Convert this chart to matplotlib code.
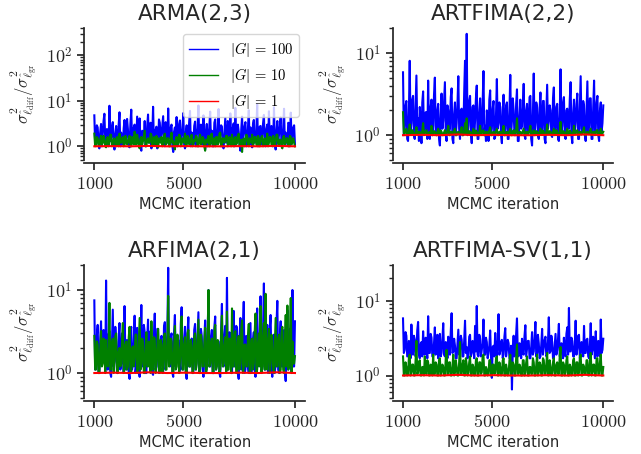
import numpy as np
import matplotlib
matplotlib.use("Agg")
import matplotlib.pyplot as plt
from matplotlib.ticker import FixedLocator, FuncFormatter, LogLocator, NullFormatter

plt.rcParams['mathtext.fontset'] = 'cm'
plt.rcParams['font.family'] = ['DejaVu Sans']

titles = ["ARMA(2,3)", "ARTFIMA(2,2)", "ARFIMA(2,1)", "ARTFIMA-SV(1,1)"]
legend_labels = [r"$|G| \,=\, 100$", r"$|G| \,=\, 10$", r"$|G| \,=\, 1$"]
x_ticks = [1000, 5000, 10000]
iter_start, iter_end = 1000, 10000
ylims = [(0.5, 400), (0.5, 20), (0.5, 20), (0.5, 30)]

arma_g100 = [
    4.8, 1.1, 1.3, 2.9, 2.6, 1.2, 0.9, 2.0, 3.1, 1.0, 1.8, 3.6, 5.2, 1.4, 1.2, 2.4, 2.2, 1.0, 7.8, 1.3,
    1.5, 2.7, 3.4, 1.1, 0.85, 1.9, 2.8, 1.2, 1.4, 3.0, 5.6, 1.0, 2.0, 1.5, 1.1, 2.5, 3.8, 1.2, 1.6, 4.0,
    2.4, 1.0, 0.95, 3.2, 6.4, 1.2, 1.7, 2.6, 3.0, 1.1, 1.2, 4.5, 2.5, 1.3, 4.1, 1.0, 0.8, 2.2, 2.1, 1.4,
    3.6, 1.0, 1.3, 2.8, 5.0, 1.2, 1.9, 3.3, 0.9, 1.6, 7.4, 1.1, 1.4, 2.3, 2.7, 0.9, 1.1, 3.9, 3.3, 1.3,
    1.8, 2.9, 4.6, 1.1, 1.0, 3.4, 2.3, 1.2, 6.8, 1.5, 1.5, 2.6, 3.0, 1.0, 0.75, 2.1, 2.6, 1.2, 4.4, 1.0,
    1.2, 3.1, 3.7, 1.4, 1.6, 2.4, 5.4, 1.1, 0.9, 2.0, 2.9, 1.2, 1.3, 3.5, 6.0, 1.0, 2.0, 1.6, 1.1, 2.8,
    3.5, 1.0, 1.7, 2.5, 7.9, 1.3, 1.2, 3.0, 2.4, 1.1, 4.8, 1.5, 0.85, 2.2, 3.1, 1.0, 1.5, 2.7, 5.8, 1.2,
    2.2, 1.0, 1.0, 3.3, 3.9, 1.1, 1.4, 2.4, 6.6, 1.3, 1.8, 2.9, 2.7, 1.0, 0.9, 2.0, 4.2, 1.2, 1.3, 3.6,
    2.5, 1.1, 5.3, 1.4, 1.1, 2.6, 3.2, 1.0, 7.0, 1.2, 1.6, 3.0, 2.1, 1.1, 0.8, 2.3, 4.5, 1.3, 1.9, 2.8,
    3.4, 1.0, 1.2, 2.5, 6.2, 1.1, 2.6, 1.4, 0.95, 3.1, 3.8, 1.2, 1.5, 2.2, 8.4, 1.0, 1.3, 2.7, 2.8, 1.1,
    1.7, 3.2, 4.9, 1.2, 1.0, 2.4, 3.0, 1.1, 5.9, 1.4, 1.4, 2.8, 2.3, 1.0, 7.2, 1.3, 0.85, 2.1, 3.6, 1.2,
    1.8, 2.9, 4.3, 1.0, 1.2, 2.5, 6.7, 1.1, 2.0, 1.5, 1.1, 3.3, 3.2, 1.0, 5.5, 1.3, 1.6, 2.6, 2.9, 1.1]
arma_g10 = [
    1.9, 1.0, 1.1, 1.6, 1.5, 1.05, 1.0, 1.4, 1.7, 1.1, 1.2, 1.7, 1.4, 1.0, 0.95, 1.5, 1.6, 1.1, 1.3, 1.8,
    1.8, 1.0, 1.1, 1.4, 1.5, 1.1, 1.0, 1.6, 1.3, 1.0, 1.9, 1.2, 1.2, 1.5, 1.6, 1.0, 1.05, 1.7, 1.4, 1.1,
    1.2, 1.5, 1.7, 1.0, 1.0, 1.6, 1.5, 1.1, 2.1, 1.2, 1.1, 1.8, 1.4, 1.0, 0.9, 1.5, 1.6, 1.1, 1.3, 1.7,
    2.2, 1.0, 1.0, 1.4, 1.5, 1.2, 1.2, 1.9, 1.8, 1.0, 1.1, 1.6, 1.4, 1.1, 1.7, 1.0, 0.95, 1.5, 1.3, 1.2,
    1.6, 1.0, 1.1, 1.7, 1.9, 1.1, 1.2, 1.5, 1.5, 1.0, 1.0, 1.6, 2.0, 1.2, 1.3, 1.0, 0.85, 1.4, 1.6, 1.1,
    1.2, 1.8, 1.7, 1.0, 1.1, 1.5, 1.4, 1.2, 1.9, 1.0, 1.0, 1.7, 1.5, 1.1, 1.2, 1.6, 1.8, 1.0, 1.1, 1.4,
    1.3, 1.7, 1.6, 1.0, 1.0, 1.5, 1.8, 1.1, 1.2, 1.6, 1.5, 1.0, 0.8, 1.4, 1.4, 1.2, 1.7, 1.0, 1.1, 1.8,
    1.9, 1.1, 1.3, 1.5, 1.0, 1.6, 1.6, 1.1, 1.2, 1.9, 2.0, 1.0, 1.1, 1.5, 1.5, 1.2, 1.3, 1.7, 1.7, 1.0,
    1.1, 1.6, 1.4, 1.0, 1.8, 1.2, 1.0, 1.5, 1.6, 1.1, 1.2, 1.7, 1.9, 1.0, 1.1, 1.4, 0.75, 1.3, 1.5, 1.0,
    1.3, 1.8, 1.7, 1.1, 1.0, 1.5, 1.4, 1.2, 1.8, 1.0, 1.2, 1.6, 1.6, 1.1, 1.05, 1.7, 1.5, 1.0, 1.3, 1.6,
    1.7, 1.0, 1.1, 1.5, 1.4, 1.1, 1.9, 1.0, 1.2, 1.6, 1.6, 1.1, 1.0, 1.7, 1.5, 1.0, 1.3, 1.8, 1.8, 1.1,
    1.1, 1.4, 1.4, 1.0, 0.9, 1.6, 1.7, 1.1, 1.2, 1.5, 1.5, 1.0, 1.0, 1.7, 1.6, 1.1, 1.3, 1.5, 1.2, 1.0]

artfima_g100 = [
    5.8, 1.0, 1.2, 2.3, 2.6, 0.9, 0.85, 1.8, 8.0, 1.1, 1.4, 2.7, 3.0, 1.0, 0.9, 2.1, 5.3, 1.2, 1.6, 0.85,
    2.2, 1.4, 0.8, 2.5, 3.4, 1.0, 1.1, 1.9, 1.9, 0.9, 4.6, 1.3, 0.9, 2.2, 2.7, 1.0, 1.3, 3.1, 5.0, 1.1,
    1.0, 2.0, 2.4, 0.9, 0.75, 1.7, 3.2, 1.2, 1.5, 2.6, 4.4, 1.0, 0.85, 2.3, 2.0, 1.1, 1.2, 2.9, 3.7, 0.9,
    0.8, 1.8, 2.5, 1.0, 1.4, 2.4, 5.2, 1.2, 0.9, 2.0, 2.1, 1.0, 1.1, 3.3, 8.0, 1.3, 17.0, 1.0, 1.3, 2.6,
    3.0, 1.1, 0.8, 2.2, 2.3, 1.0, 1.5, 2.8, 4.0, 0.9, 0.9, 1.9, 2.8, 1.2, 1.1, 2.4, 6.0, 1.0, 1.3, 0.85,
    2.0, 1.5, 0.85, 2.7, 3.5, 1.0, 1.2, 2.1, 2.6, 0.9, 0.95, 1.8, 4.8, 1.2, 1.4, 2.5, 2.2, 1.0, 0.8, 2.0,
    3.1, 1.0, 1.2, 2.3, 2.5, 0.9, 0.9, 1.9, 5.4, 1.1, 1.5, 2.8, 2.0, 1.0, 1.0, 2.4, 3.6, 0.85, 0.85, 1.7,
    2.7, 1.2, 1.3, 2.2, 4.2, 1.0, 0.9, 2.0, 2.4, 1.1, 1.1, 2.9, 3.0, 0.9, 0.75, 1.8, 5.6, 1.0, 1.4, 2.5,
    2.2, 1.0, 0.9, 2.1, 3.3, 1.1, 1.2, 2.6, 2.6, 0.9, 0.8, 1.9, 4.1, 1.2, 1.5, 2.3, 2.0, 1.0, 0.95, 2.8,
    3.8, 1.0, 1.1, 2.2, 2.4, 0.9, 0.85, 1.7, 6.3, 1.1, 1.3, 2.5, 2.9, 1.0, 0.9, 2.0, 2.1, 1.2, 1.2, 2.7,
    4.4, 1.0, 0.8, 1.8, 2.7, 1.1, 1.4, 2.4, 3.2, 0.9, 0.9, 2.1, 5.2, 1.2, 1.1, 2.6, 2.3, 1.0, 0.85, 1.9,
    4.5, 1.1, 1.3, 2.8, 2.8, 0.9, 0.9, 2.2, 4.6, 1.0, 1.2, 2.5, 3.0, 1.0, 0.85, 2.0, 2.5, 1.1, 1.4, 2.3]
artfima_g10 = [
    1.9, 1.05, 1.05, 1.12, 1.2, 1.0, 1.0, 1.1, 1.35, 1.02, 1.05, 1.15, 1.1, 1.0, 1.0, 1.08, 1.25, 1.03, 1.05, 1.1,
    1.1, 1.0, 1.0, 1.12, 1.4, 1.02, 1.05, 1.1, 1.15, 1.0, 1.0, 1.08, 1.1, 1.03, 1.3, 1.0, 1.05, 1.12, 1.1, 1.02,
    1.0, 1.1, 1.2, 1.02, 1.05, 1.14, 1.1, 1.0, 1.0, 1.08, 1.15, 1.03, 1.05, 1.12, 1.3, 1.0, 1.0, 1.1, 1.1, 1.02,
    1.05, 1.15, 1.2, 1.0, 1.0, 1.08, 1.1, 1.03, 1.05, 1.12, 1.25, 1.0, 1.0, 1.1, 1.4, 1.05, 1.6, 1.02, 1.05, 1.12,
    1.1, 1.0, 1.0, 1.1, 1.2, 1.02, 1.05, 1.14, 1.1, 1.0, 1.0, 1.08, 1.3, 1.03, 1.05, 1.12, 1.15, 1.0, 1.0, 1.1,
    1.1, 1.02, 1.05, 1.15, 1.25, 1.0, 1.0, 1.08, 1.1, 1.03, 1.05, 1.12, 1.2, 1.0, 1.0, 1.1, 1.1, 1.02, 1.05, 1.14,
    1.3, 1.0, 1.0, 1.08, 1.1, 1.03, 1.05, 1.12, 1.2, 1.0, 1.0, 1.1, 1.15, 1.02, 1.05, 1.14, 1.6, 1.0, 1.0, 1.08,
    1.1, 1.03, 1.05, 1.12, 1.2, 1.0, 1.0, 1.1, 1.1, 1.02, 1.05, 1.15, 1.3, 1.0, 1.0, 1.08, 1.15, 1.03, 1.05, 1.12,
    1.1, 1.0, 1.0, 1.1, 1.2, 1.02, 1.05, 1.14, 1.1, 1.0, 1.0, 1.08, 1.35, 1.03, 1.05, 1.12, 1.1, 1.0, 1.0, 1.1,
    1.2, 1.02, 1.05, 1.15, 1.1, 1.0, 1.0, 1.08, 1.45, 1.03, 1.05, 1.12, 1.1, 1.0, 1.0, 1.1, 1.2, 1.02, 1.05, 1.14,
    1.1, 1.0, 1.0, 1.08, 1.3, 1.03, 1.05, 1.12, 1.15, 1.0, 1.0, 1.1, 1.1, 1.02, 1.05, 1.14, 1.25, 1.0, 1.0, 1.08,
    1.1, 1.03, 1.05, 1.12, 1.2, 1.0, 1.0, 1.1, 1.1, 1.02, 1.05, 1.15, 1.15, 1.0, 1.0, 1.08, 1.2, 1.03, 1.05, 1.1]

arfima_g100 = [
    7.5, 1.1, 1.2, 2.8, 3.8, 1.0, 1.0, 2.4, 4.2, 1.3, 1.5, 3.3, 2.6, 1.0, 13.0, 1.4, 1.1, 2.9, 3.2, 1.0,
    0.9, 2.2, 5.8, 1.2, 1.4, 3.6, 2.4, 1.0, 1.0, 2.7, 4.0, 1.1, 1.3, 3.0, 2.9, 1.0, 6.4, 1.5, 1.1, 2.5,
    2.2, 1.0, 0.85, 3.1, 3.6, 1.1, 1.5, 2.4, 4.9, 1.0, 1.2, 3.5, 2.7, 1.1, 0.9, 2.0, 6.6, 1.2, 1.3, 3.8,
    3.1, 1.0, 1.0, 2.6, 4.4, 1.3, 1.6, 3.2, 2.3, 1.0, 0.95, 2.8, 5.2, 1.1, 1.2, 3.4, 3.4, 1.0, 1.1, 2.5,
    2.8, 1.2, 1.0, 3.6, 4.1, 1.1, 1.4, 2.9, 18.5, 1.3, 1.2, 2.7, 3.0, 1.0, 0.9, 3.1, 5.0, 1.2, 1.5, 2.4,
    2.5, 1.0, 1.1, 3.9, 6.2, 1.1, 1.3, 2.6, 3.6, 1.0, 0.85, 3.0, 4.7, 1.2, 1.2, 2.2, 2.6, 1.0, 1.0, 3.3,
    3.9, 1.1, 1.4, 2.8, 5.4, 1.0, 1.1, 3.4, 2.8, 1.2, 0.9, 2.5, 4.3, 1.0, 1.3, 3.0, 10.0, 1.2, 1.2, 2.7,
    3.3, 1.0, 1.0, 3.6, 4.8, 1.1, 1.5, 2.4, 2.4, 1.0, 0.9, 3.2, 6.8, 1.3, 1.2, 2.9, 3.7, 1.0, 14.0, 1.1,
    1.3, 3.1, 2.9, 1.0, 1.0, 2.6, 5.6, 1.2, 1.4, 3.7, 3.5, 1.0, 0.85, 2.3, 4.6, 1.1, 1.2, 3.4, 7.2, 1.0,
    1.1, 2.8, 2.7, 1.2, 1.0, 3.9, 4.0, 1.0, 1.5, 2.5, 3.1, 1.1, 0.9, 3.0, 6.0, 1.2, 1.3, 2.7, 8.4, 1.0,
    1.2, 3.3, 12.0, 1.1, 1.1, 2.6, 3.8, 1.0, 1.4, 3.5, 5.0, 1.2, 0.9, 2.4, 2.9, 1.0, 1.3, 3.8, 7.4, 1.1,
    1.0, 2.7, 4.2, 1.2, 1.2, 3.1, 3.3, 1.0, 0.8, 2.5, 5.7, 1.1, 1.4, 3.4, 2.6, 1.0, 10.0, 1.2, 1.2, 4.2]
arfima_g10 = [
    2.8, 1.1, 1.1, 2.4, 2.2, 1.0, 1.0, 1.9, 3.2, 1.2, 1.3, 2.6, 1.8, 1.0, 2.5, 1.3, 1.2, 2.0, 7.0, 1.1,
    1.1, 2.3, 2.6, 1.0, 1.4, 2.8, 3.0, 1.1, 1.0, 1.8, 2.0, 1.2, 1.3, 2.5, 4.0, 1.0, 1.1, 2.2, 2.4, 1.1,
    1.2, 2.7, 3.6, 1.0, 1.0, 2.0, 2.1, 1.2, 1.5, 2.9, 2.9, 1.0, 1.1, 2.2, 4.6, 1.1, 1.3, 2.6, 2.3, 1.0,
    1.0, 1.9, 3.1, 1.2, 1.2, 2.4, 1.9, 1.0, 4.2, 1.3, 1.1, 2.7, 2.6, 1.0, 1.3, 2.1, 3.4, 1.1, 1.0, 2.5,
    2.2, 1.0, 1.2, 2.8, 3.0, 1.1, 1.1, 2.3, 8.5, 1.2, 1.3, 2.6, 2.4, 1.0, 1.0, 2.0, 3.7, 1.1, 1.2, 2.9,
    2.0, 1.0, 1.4, 2.4, 4.8, 1.1, 1.1, 2.2, 2.7, 1.0, 1.0, 3.0, 3.3, 1.2, 1.2, 2.5, 2.1, 1.0, 1.1, 2.7,
    3.0, 1.1, 1.3, 2.4, 4.4, 1.0, 1.0, 2.9, 2.3, 1.2, 1.2, 2.2, 3.5, 1.0, 1.1, 2.6, 10.0, 1.2, 1.3, 2.3,
    2.6, 1.0, 1.0, 3.2, 3.8, 1.1, 1.2, 2.5, 2.2, 1.0, 1.1, 2.8, 4.9, 1.2, 1.3, 2.1, 2.7, 1.0, 5.5, 1.1,
    1.1, 2.6, 2.4, 1.0, 6.0, 1.2, 1.2, 2.9, 3.2, 1.0, 1.0, 2.4, 2.8, 1.1, 1.3, 3.3, 4.3, 1.0, 1.1, 2.2,
    2.2, 1.2, 1.2, 2.7, 3.9, 1.0, 1.0, 2.5, 2.6, 1.1, 1.3, 3.0, 5.2, 1.0, 1.1, 2.3, 3.0, 1.2, 6.4, 1.0,
    1.2, 2.8, 4.0, 1.1, 9.0, 1.2, 1.1, 2.5, 3.4, 1.0, 1.3, 2.9, 2.5, 1.1, 1.0, 2.2, 4.6, 1.2, 1.2, 2.6,
    2.9, 1.0, 1.1, 3.1, 3.6, 1.1, 1.0, 2.4, 5.0, 1.2, 6.5, 1.1, 1.2, 2.7, 8.0, 1.0, 2.4, 1.3, 1.3, 1.6]

sv_g100 = [
    5.8, 2.0, 2.2, 3.8, 3.4, 1.8, 1.8, 2.9, 2.6, 1.7, 4.8, 2.2, 1.9, 3.4, 3.0, 1.8, 2.1, 4.0, 5.2, 1.9,
    1.7, 2.6, 2.8, 1.8, 3.9, 2.1, 1.9, 3.2, 2.4, 1.7, 6.2, 2.0, 2.0, 3.6, 3.2, 1.8, 1.8, 2.7, 4.4, 1.9,
    2.3, 3.5, 1.7, 2.4, 3.6, 1.8, 2.0, 3.0, 5.0, 1.9, 1.8, 2.8, 2.7, 1.7, 3.3, 2.2, 1.9, 3.9, 6.8, 2.0,
    2.1, 3.1, 2.5, 1.7, 1.7, 2.6, 4.1, 1.9, 2.2, 3.4, 3.0, 1.8, 1.8, 2.9, 5.4, 2.0, 2.4, 1.7, 1.9, 3.3,
    3.5, 1.8, 2.0, 2.9, 2.6, 1.7, 4.6, 2.1, 8.5, 1.9, 1.8, 3.5, 3.1, 1.8, 2.2, 2.7, 5.6, 1.9, 1.9, 3.2,
    2.8, 1.7, 2.0, 2.5, 4.0, 1.8, 0.93, 2.4, 2.5, 1.8, 3.7, 2.0, 1.8, 3.0, 6.6, 1.9, 2.1, 2.8, 3.0, 1.7,
    1.9, 3.3, 4.3, 1.8, 2.2, 3.0, 2.7, 1.7, 1.7, 2.5, 0.65, 2.2, 3.4, 1.8, 2.0, 3.6, 5.8, 1.9, 1.8, 2.7,
    2.6, 1.7, 3.1, 2.0, 1.9, 3.4, 4.7, 1.8, 2.3, 2.9, 2.9, 1.7, 1.7, 2.4, 3.8, 1.9, 2.1, 3.1, 5.2, 1.8,
    2.0, 3.5, 2.7, 1.7, 1.8, 2.6, 4.2, 1.9, 2.4, 3.0, 3.3, 1.8, 1.9, 2.8, 6.0, 2.0, 2.1, 3.4, 2.8, 1.7,
    1.7, 2.5, 3.6, 1.9, 2.2, 3.1, 4.9, 1.8, 1.9, 2.7, 2.6, 1.7, 3.2, 2.0, 1.8, 3.6, 4.4, 1.9, 8.0, 2.1,
    2.1, 3.2, 2.9, 1.8, 1.8, 2.6, 5.4, 1.9, 2.3, 3.4, 3.5, 1.7, 1.9, 2.8, 2.7, 1.8, 4.6, 2.0, 2.0, 3.0,
    3.1, 1.8, 1.7, 2.5, 5.0, 1.9, 2.2, 3.3, 2.6, 1.7, 3.9, 2.0, 1.8, 2.9, 2.4, 1.8, 5.6, 2.0, 2.2, 3.1]
sv_g10 = [
    1.8, 1.0, 1.0, 1.5, 1.3, 1.0, 1.05, 1.7, 1.9, 1.0, 1.1, 1.4, 1.4, 1.0, 1.0, 1.6, 2.9, 1.05, 1.1, 1.5,
    1.6, 1.0, 1.0, 1.3, 1.3, 1.0, 1.8, 1.1, 1.05, 1.6, 1.5, 1.0, 1.0, 1.4, 1.2, 1.0, 1.9, 1.05, 1.05, 1.5,
    1.4, 1.0, 1.0, 1.6, 1.7, 1.0, 1.1, 1.4, 1.3, 1.0, 1.0, 1.7, 2.2, 1.05, 1.05, 1.5, 1.5, 1.0, 1.0, 1.3,
    1.9, 1.0, 1.1, 1.6, 1.3, 1.0, 1.0, 1.5, 2.8, 1.05, 1.05, 1.4, 1.6, 1.0, 1.0, 1.7, 1.4, 1.0, 1.1, 1.5,
    1.8, 1.0, 1.0, 1.4, 1.3, 1.0, 1.05, 1.6, 1.7, 1.0, 1.0, 1.5, 1.5, 1.05, 1.1, 1.8, 1.9, 1.0, 1.0, 1.3,
    1.2, 1.0, 1.05, 1.6, 1.6, 1.0, 1.0, 1.4, 1.4, 1.05, 1.1, 1.7, 1.8, 1.0, 1.0, 1.5, 1.3, 1.0, 1.05, 1.6,
    1.7, 1.0, 1.0, 1.4, 1.2, 1.0, 1.05, 1.6, 1.9, 1.0, 1.1, 1.5, 1.4, 1.0, 1.0, 1.7, 2.6, 1.05, 1.05, 1.4,
    1.3, 1.0, 1.0, 1.6, 1.6, 1.0, 1.1, 1.5, 1.8, 1.0, 1.0, 1.3, 1.3, 1.05, 1.05, 1.7, 1.5, 1.0, 1.0, 1.4,
    1.9, 1.0, 1.1, 1.5, 1.4, 1.0, 1.0, 1.7, 1.6, 1.05, 1.05, 1.4, 2.0, 1.0, 1.0, 1.6, 1.3, 1.0, 1.1, 1.5,
    1.7, 1.0, 1.0, 1.4, 1.5, 1.05, 1.05, 1.8, 2.4, 1.0, 1.0, 1.5, 1.4, 1.0, 1.1, 1.6, 1.8, 1.0, 1.0, 1.4,
    1.3, 1.0, 1.05, 1.6, 1.7, 1.0, 1.0, 1.5, 1.5, 1.0, 1.1, 1.7, 1.9, 1.0, 1.0, 1.4, 1.3, 1.05, 1.05, 1.6,
    1.6, 1.0, 1.0, 1.5, 2.0, 1.0, 1.1, 1.4, 1.4, 1.0, 1.0, 1.7, 1.7, 1.05, 1.05, 1.5, 1.9, 1.0, 1.0, 1.3]

g1_values = [1.0, 1.01, 1.0, 1.02, 1.0, 1.01, 1.0, 1.0, 1.01, 1.0, 1.02, 1.0]

series = [
    (arma_g100, arma_g10, g1_values),
    (artfima_g100, artfima_g10, g1_values),
    (arfima_g100, arfima_g10, g1_values),
    (sv_g100, sv_g10, g1_values),
]
colors = ["blue", "green", "red"]
text_color = "#262626"

fig = plt.figure(figsize=(6.41, 4.54), dpi=100)
positions = [
    [0.1315, 0.6476, 0.3443, 0.2907],
    [0.6131, 0.6476, 0.3437, 0.2907],
    [0.1315, 0.1233, 0.3443, 0.2930],
    [0.6131, 0.1233, 0.3437, 0.2930],
]

def xfmt(v, pos):
    return r"$%d$" % int(round(v))

def yfmt(v, pos):
    if v <= 0:
        return ""
    e = np.log10(v)
    if abs(e - round(e)) < 1e-6:
        return r"$10^{%d}$" % int(round(e))
    return ""

for k in range(4):
    ax = fig.add_axes(positions[k])
    for vals, c, lab in zip(series[k], colors, legend_labels):
        xs = np.linspace(iter_start, iter_end, len(vals))
        ax.plot(xs, vals, color=c, lw=1.5, label=lab)
    ax.set_yscale("log")
    ax.set_ylim(*ylims[k])
    ax.set_xlim(iter_start - 0.05 * (iter_end - iter_start), iter_end + 0.05 * (iter_end - iter_start))
    ax.xaxis.set_major_locator(FixedLocator(x_ticks))
    ax.xaxis.set_major_formatter(FuncFormatter(xfmt))
    ax.xaxis.set_minor_locator(FixedLocator([]))
    ax.yaxis.set_major_locator(LogLocator(base=10, numticks=10))
    ax.yaxis.set_major_formatter(FuncFormatter(yfmt))
    ax.yaxis.set_minor_locator(LogLocator(base=10, subs=np.arange(2, 10), numticks=20))
    ax.yaxis.set_minor_formatter(NullFormatter())
    for s in ["top", "right"]:
        ax.spines[s].set_visible(False)
    for s in ["left", "bottom"]:
        ax.spines[s].set_linewidth(1.25)
        ax.spines[s].set_color(text_color)
    ax.spines["bottom"].set_position(("outward", 2.5))
    ax.tick_params(axis="both", which="major", direction="out", length=5, width=1.25,
                   colors=text_color, labelsize=13)
    ax.tick_params(axis="y", which="minor", direction="out", length=3, width=1.0, colors=text_color)
    ax.set_title(titles[k], fontsize=15.5, color=text_color, pad=6)
    ax.set_xlabel("MCMC iteration", fontsize=10.5, color=text_color, labelpad=3)
    ax.set_ylabel(r"$\sigma^2_{\hat{\ell}_{\rm diff}}/\sigma^2_{\hat{\ell}_{\rm gr}}$",
                  fontsize=12, color=text_color, labelpad=4)
    if k == 0:
        leg = ax.legend(loc="upper right", fontsize=10.5, frameon=True, borderaxespad=0.4)
        leg.get_frame().set_edgecolor("#cccccc")
        for line in leg.get_lines():
            line.set_linewidth(1.0)

fig.savefig("out.png", dpi=100)
